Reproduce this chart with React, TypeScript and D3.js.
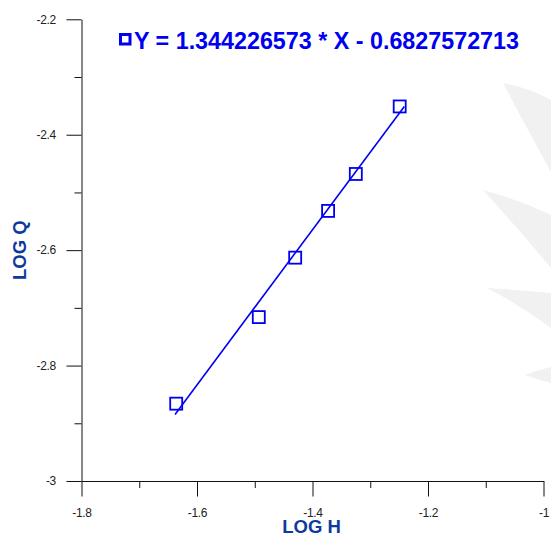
import React, { useEffect, useRef } from "react";
import * as d3 from "d3";

// measured points (LOG H, LOG Q)
const logH = [-1.636, -1.493, -1.43, -1.373, -1.325, -1.249];
const logQ = [-2.866, -2.716, -2.613, -2.532, -2.468, -2.351];

// fitted line from the legend
const slope = 1.344226573;
const intercept = -0.6827572713;
const legendText = "Y = 1.344226573 * X - 0.6827572713";

const xMajor = [-1.8, -1.6, -1.4, -1.2, -1];
const xMinor = [-1.7, -1.5, -1.3, -1.1];
const xTickLabels = ["-1.8", "-1.6", "-1.4", "-1.2", "-1"];
const yMajor = [-3, -2.8, -2.6, -2.4, -2.2];
const yMinor = [-2.9, -2.7, -2.5, -2.3];
const yTickLabels = ["-3", "-2.8", "-2.6", "-2.4", "-2.2"];

const W = 551;
const H = 537;
const BLUE = "#0000f0";
const LABEL_BLUE = "#0d3a9c";
const FONT = "'Liberation Sans', Arial, Helvetica, sans-serif";

const App = () => {
  const svgRef = useRef<SVGSVGElement | null>(null);

  useEffect(() => {
    document.body.style.margin = "0";
    const svg = d3.select(svgRef.current);
    svg.selectAll("*").remove();

    const x = d3.scaleLinear().domain([-1.8, -1]).range([81.5, 543.5]);
    const y = d3.scaleLinear().domain([-3, -2.2]).range([481, 19.3]);

    // faint background watermark leaves
    const wm = svg.append("g").attr("fill", "#f1f1f1");
    const leaves = [
      "M503,83 Q530,88 551,100 L551,172 Q525,125 503,83 Z",
      "M483,190 Q520,200 551,215 L551,268 Q515,225 483,190 Z",
      "M487,288 Q520,290 551,293 L551,328 Q520,305 487,288 Z",
      "M525,375 Q538,370 551,367 L551,383 Q538,380 525,375 Z",
    ];
    wm.selectAll("path").data(leaves).join("path").attr("d", (d) => d);

    // axes
    const xAxisG = svg
      .append("g")
      .attr("transform", `translate(0,${y(-3)})`)
      .style("color", "#111")
      .call(
        d3
          .axisBottom(x)
          .tickValues(xMajor)
          .tickSize(15.5)
          .tickSizeOuter(0)
          .tickPadding(11.5)
          .tickFormat((d, i) => xTickLabels[i])
      );
    svg
      .append("g")
      .attr("transform", `translate(0,${y(-3)})`)
      .style("color", "#111")
      .call(d3.axisBottom(x).tickValues(xMinor).tickSize(7).tickFormat(() => ""))
      .call((g) => g.select(".domain").remove());

    const yAxisG = svg
      .append("g")
      .attr("transform", `translate(${x(-1.8)},0)`)
      .style("color", "#111")
      .call(
        d3
          .axisLeft(y)
          .tickValues(yMajor)
          .tickSize(15)
          .tickSizeOuter(0)
          .tickPadding(10.5)
          .tickFormat((d, i) => yTickLabels[i])
      );
    svg
      .append("g")
      .attr("transform", `translate(${x(-1.8)},0)`)
      .style("color", "#111")
      .call(d3.axisLeft(y).tickValues(yMinor).tickSize(7).tickFormat(() => ""))
      .call((g) => g.select(".domain").remove());

    [xAxisG, yAxisG].forEach((g) =>
      g
        .selectAll("text")
        .attr("font-family", FONT)
        .attr("font-size", 12)
        .attr("letter-spacing", -0.3)
        .attr("fill", "#222")
    );

    // axis titles
    svg
      .append("text")
      .attr("x", (x(-1.8) + x(-1)) / 2 - 1)
      .attr("y", 533)
      .attr("text-anchor", "middle")
      .attr("font-family", FONT)
      .attr("font-weight", "bold")
      .attr("font-size", 18.5)
      .attr("fill", LABEL_BLUE)
      .text("LOG H");
    svg
      .append("text")
      .attr("transform", `translate(26,${(y(-3) + y(-2.2)) / 2}) rotate(-90)`)
      .attr("text-anchor", "middle")
      .attr("font-family", FONT)
      .attr("font-weight", "bold")
      .attr("font-size", 18.5)
      .attr("fill", LABEL_BLUE)
      .text("LOG Q");

    // regression line over the data range
    const [xmin, xmax] = d3.extent(logH) as [number, number];
    const fitLine = d3
      .line<number>()
      .x((d) => x(d))
      .y((d) => y(slope * d + intercept));
    svg
      .append("path")
      .attr("d", fitLine([xmin - 0.002, xmax + 0.008]))
      .attr("fill", "none")
      .attr("stroke", BLUE)
      .attr("stroke-width", 1.6);

    // square markers
    const s = 12;
    svg
      .append("g")
      .selectAll("rect")
      .data(logH)
      .join("rect")
      .attr("x", (d) => x(d) - s / 2)
      .attr("y", (d, i) => y(logQ[i]) - s / 2)
      .attr("width", s)
      .attr("height", s)
      .attr("fill", "none")
      .attr("stroke", BLUE)
      .attr("stroke-width", 1.8);

    // legend
    svg
      .append("rect")
      .attr("x", 120.5)
      .attr("y", 34.5)
      .attr("width", 9.5)
      .attr("height", 9.5)
      .attr("fill", "#fff")
      .attr("stroke", BLUE)
      .attr("stroke-width", 3);
    svg
      .append("text")
      .attr("x", 134)
      .attr("y", 49)
      .attr("font-family", FONT)
      .attr("font-weight", "bold")
      .attr("font-size", 24.5)
      .attr("fill", BLUE)
      .attr("textLength", 385)
      .attr("lengthAdjust", "spacingAndGlyphs")
      .text(legendText);
  }, []);

  return (
    <svg
      ref={svgRef}
      width={W}
      height={H}
      style={{ position: "absolute", left: 0, top: 0, background: "#fff" }}
    />
  );
};

export default App;
